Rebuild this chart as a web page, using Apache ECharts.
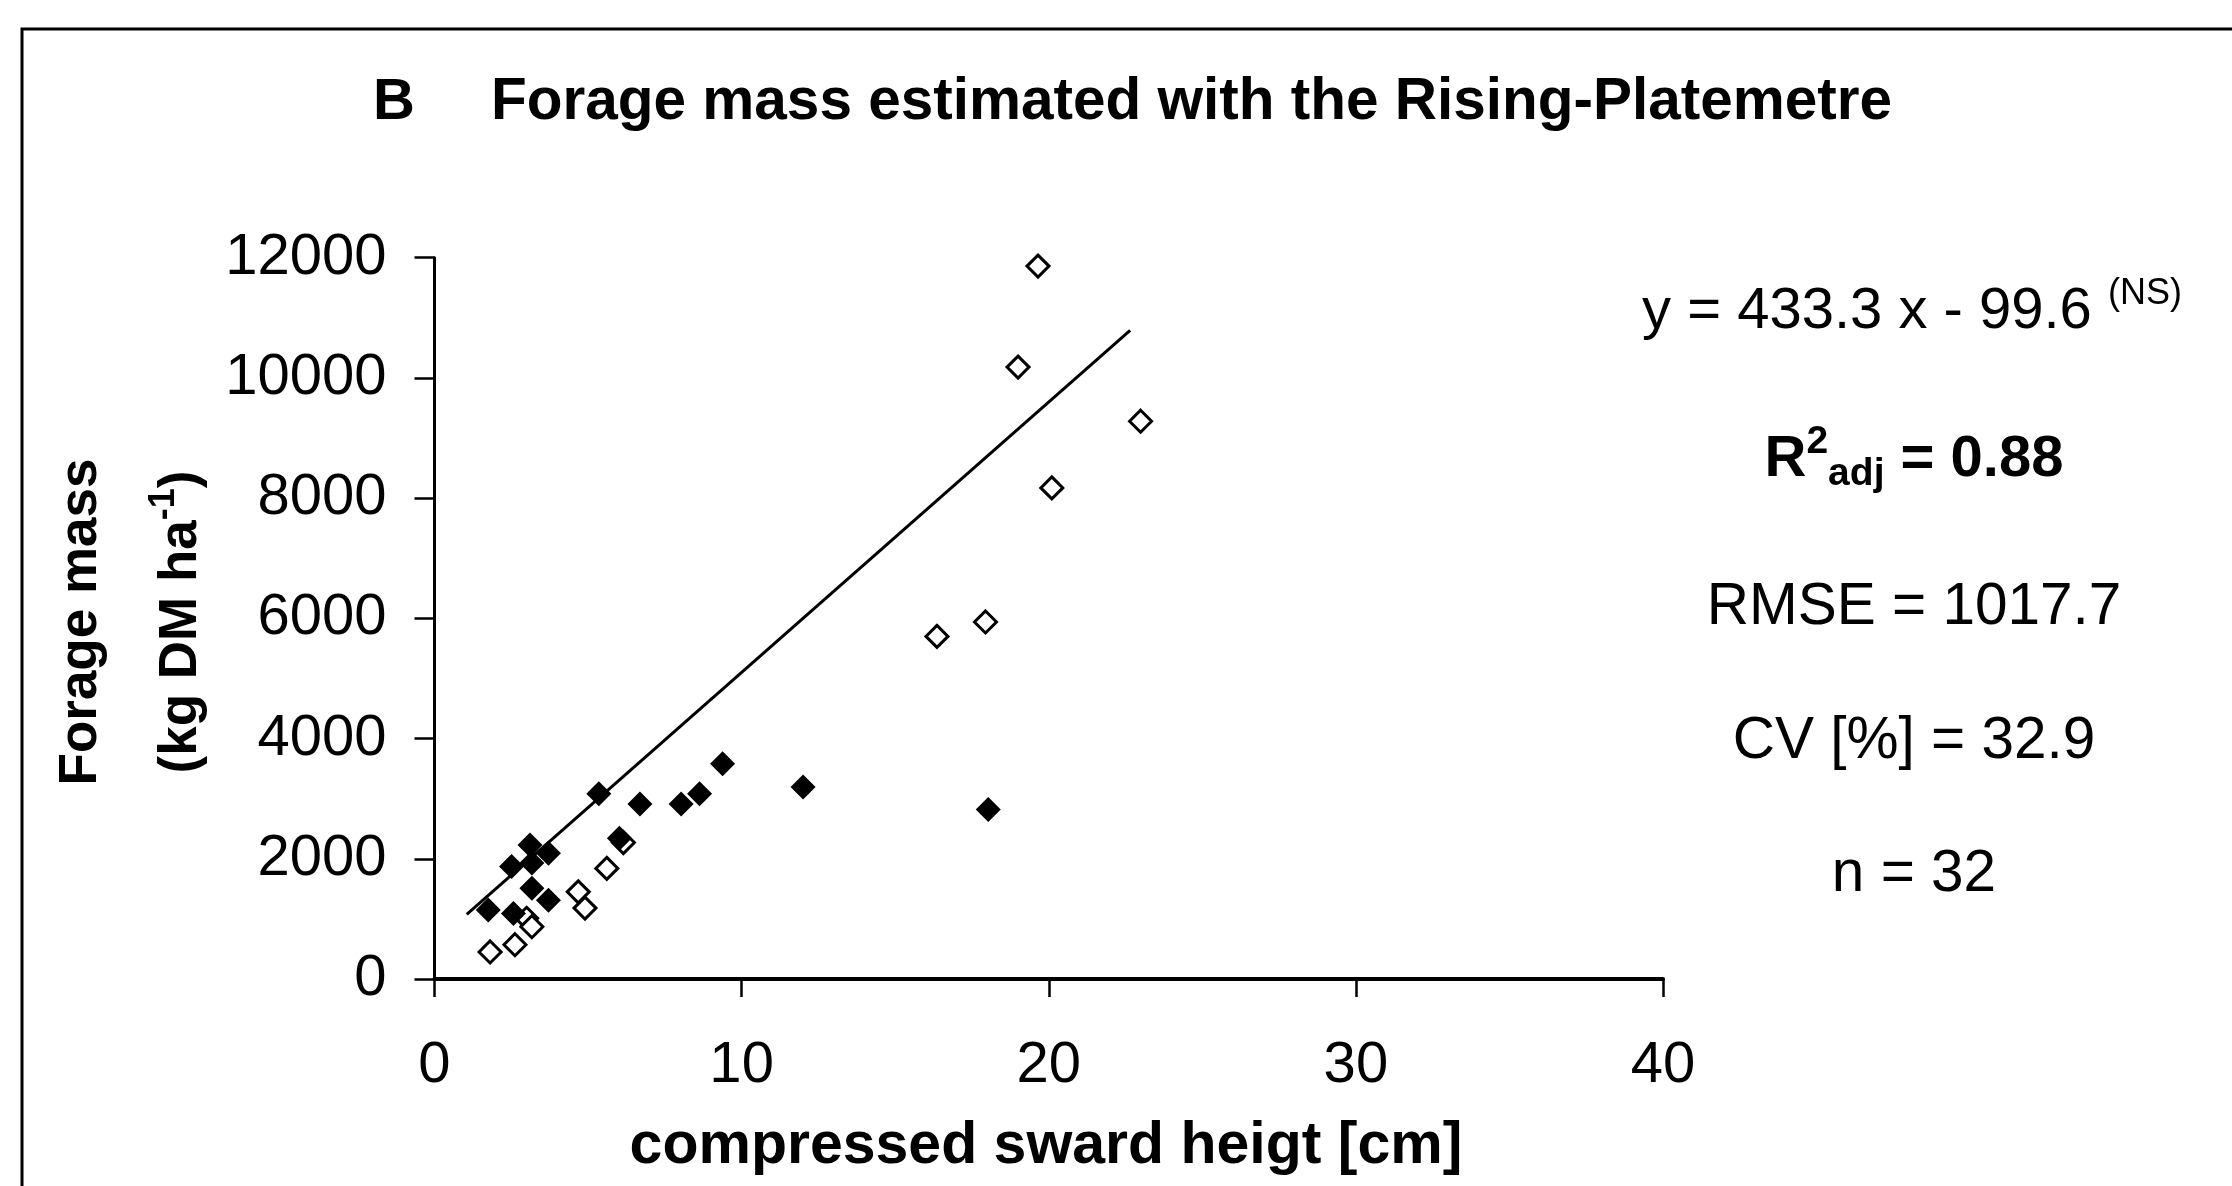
<!DOCTYPE html>
<html><head><meta charset="utf-8">
<script src="https://cdn.jsdelivr.net/npm/echarts/dist/echarts.min.js"></script>
<style>html,body{margin:0;padding:0;background:#fff}#c{width:2232px;height:1186px}</style>
</head><body><div id="c"></div>
<script>
// ---- data ----
const xTicks = [0, 10, 20, 30, 40];
const yTicks = [0, 2000, 4000, 6000, 8000, 10000, 12000];
const filledX = [5.35, 6.69, 8.03, 8.63, 9.38, 12.0, 18.03, 3.11, 3.71, 2.51, 3.17, 3.17, 3.71, 1.75, 2.57, 6.02];
const filledY = [3080, 2910, 2910, 3080, 3580, 3195, 2820, 2230, 2090, 1870, 1930, 1510, 1310, 1150, 1090, 2340];
const openX = [19.65, 19.0, 22.99, 20.1, 16.36, 17.94, 5.61, 4.68, 4.9, 3.0, 3.17, 1.81, 2.62, 6.15];
const openY = [11860, 10180, 9280, 8170, 5700, 5940, 1840, 1450, 1180, 1010, 870, 450, 570, 2270];
const lineX = [1.05, 22.65];
const lineY = [1077, 10790];
const titleLetter = 'B';
const titleText = 'Forage mass estimated with the Rising-Platemetre';
const xName = 'compressed sward heigt [cm]';
const stats = ['y = 433.3 x - 99.6 ', '(NS)', 'R', '2', 'adj', ' = 0.88', 'RMSE = 1017.7', 'CV [%] = 32.9', 'n = 32'];

const F = '"Liberation Sans", Arial, sans-serif';
const zip = (a, b) => a.map((v, i) => [v, b[i]]);

const chart = echarts.init(document.getElementById('c'), null, {renderer: 'canvas'});
chart.setOption({
  animation: false,
  backgroundColor: '#fff',
  grid: {left: 434.5, right: 569, top: 257.7, bottom: 207},
  xAxis: {
    type: 'value', min: xTicks[0], max: xTicks[xTicks.length - 1], interval: 10,
    axisLine: {lineStyle: {color: '#000', width: 4}},
    axisTick: {show: true, length: 18, lineStyle: {color: '#000', width: 2.5}},
    axisLabel: {fontSize: 58, fontFamily: F, color: '#000', margin: 58, formatter: v => String(v)},
    splitLine: {show: false}
  },
  yAxis: {
    type: 'value', min: yTicks[0], max: yTicks[yTicks.length - 1], interval: 2000,
    axisLine: {show: true, lineStyle: {color: '#000', width: 3}},
    axisTick: {show: true, length: 20, lineStyle: {color: '#000', width: 2.5}},
    axisLabel: {fontSize: 58, fontFamily: F, color: '#000', margin: 48, formatter: v => String(v)},
    splitLine: {show: false}
  },
  graphic: [
    {type: 'rect', shape: {x: 22, y: 29, width: 2400, height: 1400}, style: {fill: 'none', stroke: '#000', lineWidth: 3}, silent: true},
    {type: 'text', x: 373, y: 103, style: {text: titleLetter, font: 'bold 58px ' + F, fill: '#000', verticalAlign: 'middle'}},
    {type: 'text', x: 491, y: 103, style: {text: titleText, font: 'bold 58.5px ' + F, fill: '#000', verticalAlign: 'middle'}},
    {type: 'text', x: 1046, y: 1147, style: {text: xName, font: 'bold 59px ' + F, fill: '#000', align: 'center', verticalAlign: 'middle'}},
    {type: 'text', x: 81, y: 622, rotation: Math.PI / 2, style: {text: 'Forage mass', font: 'bold 53px ' + F, fill: '#000', align: 'center', verticalAlign: 'middle'}},
    {type: 'text', x: 181, y: 622, rotation: Math.PI / 2, style: {
      text: '{n|(kg DM ha}{s|-1}{n|)}', align: 'center', verticalAlign: 'middle',
      rich: {
        n: {fontSize: 53, fontWeight: 'bold', fontFamily: F, fill: '#000'},
        s: {fontSize: 36, fontWeight: 'bold', fontFamily: F, fill: '#000', padding: [0, 0, 34, 0]}
      }}},
    {type: 'text', x: 1912, y: 312, style: {
      text: '{n|' + stats[0] + '}{s|' + stats[1] + '}', align: 'center', verticalAlign: 'middle',
      rich: {
        n: {fontSize: 58, fontFamily: F, fill: '#000'},
        s: {fontSize: 36, fontFamily: F, fill: '#000', padding: [0, 0, 36, 0]}
      }}},
    {type: 'text', x: 1914, y: 460, style: {
      text: '{b|' + stats[2] + '}{p|' + stats[3] + '}{d|' + stats[4] + '}{b|' + stats[5] + '}', align: 'center', verticalAlign: 'middle',
      rich: {
        b: {fontSize: 58, fontWeight: 'bold', fontFamily: F, fill: '#000'},
        p: {fontSize: 39, fontWeight: 'bold', fontFamily: F, fill: '#000', padding: [0, 0, 36, 0]},
        d: {fontSize: 39, fontWeight: 'bold', fontFamily: F, fill: '#000', padding: [28, 0, 0, 0]}
      }}},
    {type: 'text', x: 1914, y: 608, style: {text: stats[6], font: '58.5px ' + F, fill: '#000', align: 'center', verticalAlign: 'middle'}},
    {type: 'text', x: 1914, y: 742, style: {text: stats[7], font: '58.5px ' + F, fill: '#000', align: 'center', verticalAlign: 'middle'}},
    {type: 'text', x: 1914, y: 875, style: {text: stats[8], font: '58.5px ' + F, fill: '#000', align: 'center', verticalAlign: 'middle'}}
  ],
  series: [
    {type: 'line', data: zip(lineX, lineY), symbol: 'none', lineStyle: {color: '#000', width: 3}, z: 1, silent: true},
    {type: 'scatter', data: zip(openX, openY), symbol: 'diamond', symbolSize: 22,
     itemStyle: {color: '#fff', borderColor: '#000', borderWidth: 3, opacity: 1}, z: 2},
    {type: 'scatter', data: zip(filledX, filledY), symbol: 'diamond', symbolSize: 25,
     itemStyle: {color: '#000', opacity: 1}, z: 3}
  ]
});
</script>
</body></html>
